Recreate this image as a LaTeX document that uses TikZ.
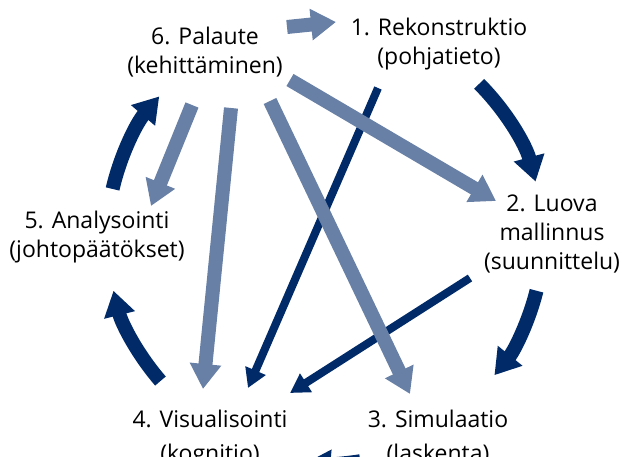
\documentclass[tikz,border=0pt]{standalone}
\usepackage{fontspec}
\setmainfont{Open Sans}
\usetikzlibrary{arrows.meta}
\definecolor{navy}{RGB}{0,43,104}
\definecolor{steel}{RGB}{104,128,166}
\begin{document}
% y grows downwards here, so polar angles turn clockwise
\begin{tikzpicture}[x=1pt,y=-1pt,
  lbl/.style={align=center, inner sep=0pt, anchor=north,
              font=\fontsize{23}{29}\selectfont},
  lowlbl/.style={lbl, font=\fontsize{23}{34}\selectfont},
  fatarrow/.style={line width=14pt, -{Triangle[length=25pt,width=30pt]}},
  slimarrow/.style={line width=8pt, -{Triangle[length=19pt,width=21pt]}}]
\useasboundingbox (0,0) rectangle (625,457);
\clip (0,0) rectangle (625,457);

% phase labels
\node[lbl] (n6) at (205,27)  {6. Palaute\\(kehittäminen)};
\node[lbl] (n1) at (439,18)  {1. Rekonstruktio\\(pohjatieto)};
\node[lbl] (n2) at (552,195) {2. Luova\\mallinnus\\(suunnittelu)};
\node[lbl] (n5) at (97,211)  {5. Analysointi\\(johtopäätökset)};
\node[lowlbl] (n4) at (210,410) {4. Visualisointi\\(kognitio)};
\node[lowlbl] (n3) at (438,410) {3. Simulaatio\\(laskenta)};

% main cycle around a common hub
\coordinate (hub) at (325,238);
\begin{scope}[navy, fatarrow]
  \draw (hub) ++(-45:218)  arc[start angle=-45,  end angle=-15,   radius=218];
  \draw (hub) ++(14:218)   arc[start angle=14,   end angle=39,    radius=218];
  \draw (hub) ++(81:226)   arc[start angle=81,   end angle=95,    radius=226];
  \draw (hub) ++(-221:218) arc[start angle=-221, end angle=-194,  radius=218];
  \draw (hub) ++(-167:218) arc[start angle=-167, end angle=-139.5,radius=218];
\end{scope}

% direct shortcuts to visualisation
\begin{scope}[navy, slimarrow]
  \draw ([shift={(-61,70)}]n1.north) -- ([shift={(38,-22)}]n4.north);
  \draw ([shift={(-82,83)}]n2.north) -- ([shift={(80,-17)}]n4.north);
\end{scope}

% feedback to every phase
\begin{scope}[steel, fatarrow]
  \draw ([shift={(82,0)}]n6.north)  -- ([shift={(-103,4)}]n1.north);
  \draw ([shift={(85,53)}]n6.north) -- ([shift={(-56,6)}]n2.north);
  \draw ([shift={(-13,78)}]n6.north) -- ([shift={(54,-5)}]n5.north);
  \draw ([shift={(26,81)}]n6.north) -- ([shift={(-7,-21)}]n4.north);
  \draw ([shift={(65,74)}]n6.north) -- ([shift={(-28,-16)}]n3.north);
\end{scope}
\end{tikzpicture}
\end{document}
